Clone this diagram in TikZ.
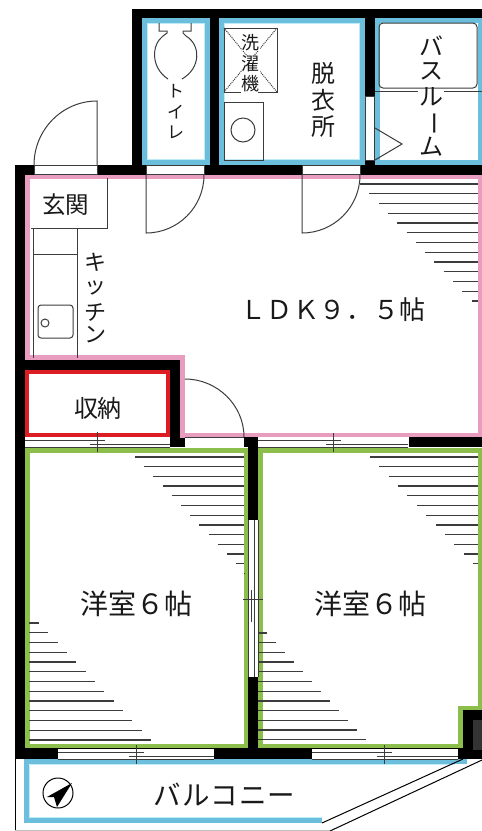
\documentclass[tikz,border=0pt]{standalone}
\usepackage{fontspec}
\setmainfont{Noto Sans CJK JP}
\definecolor{cblue}{HTML}{6BBEDC}
\definecolor{clight}{HTML}{BDEBF8}
\definecolor{cpink}{HTML}{E79CC0}
\definecolor{cgreen}{HTML}{8CBE4C}
\definecolor{cred}{HTML}{DC1E24}
\definecolor{cgrey}{HTML}{3C3C3C}
\tikzset{
  wall/.style={fill=black,draw=none},
  band/.style={draw=#1,line width=5pt,fill=none},
  innerglow/.style={draw=clight,line width=1.2pt},
  thin/.style={draw=cgrey,line width=1pt},
  hatch/.style={draw=cgrey,line width=1.25pt},
  gap/.style={fill=white,draw=none},
  label/.style={inner sep=0pt,text=black!90}
}
\begin{document}
\begin{tikzpicture}[x=1pt,y=-1pt,line join=miter]
\useasboundingbox (0,0) rectangle (482,831);
\fill[white] (0,0) rectangle (482,831);
% coloured room bands
\draw[band=cblue] (144.5,20.5) rectangle (207.5,162.5);
\draw[innerglow] (147.6,23.6) rectangle (204.4,159.4);
\draw[band=cblue] (221.5,20.5) rectangle (362.5,162.5);
\draw[innerglow] (224.6,23.6) rectangle (359.4,159.4);
\draw[band=cblue] (377.5,20.5) -- (480,20.5) -- (480,162.5) -- (377.5,162.5) -- cycle;
\draw[cpink,line width=5pt] (27.5,176) -- (480,176) -- (480,435) -- (182.5,435) -- (182.5,357.5) -- (27.5,357.5) -- cycle;
\draw[cred,line width=4.5pt] (27,372) rectangle (168,435);
\draw[band=cgreen] (27,450) rectangle (246,746);
\draw[cgreen,line width=5pt] (260.5,450) -- (480,450) -- (480,708) -- (460.5,708) -- (460.5,746) -- (260.5,746) -- cycle;
\draw[cblue,line width=5pt] (24.5,761.5) -- (467,761.5);
\draw[cblue,line width=5pt] (26.5,759) -- (26.5,820.5) -- (322,820.5);
\draw[innerglow] (29.6,764.6) -- (29.6,817.4) -- (322,817.4);
\draw[innerglow] (29.6,764.6) -- (455,764.6);
% walls
\fill[wall] (132,9) rectangle (482,18);
\fill[wall] (132,9) rectangle (142,175);
\fill[wall] (210,9) rectangle (219,175);
\fill[wall] (365,9) rectangle (375,96);
\fill[wall] (365,160) rectangle (375,175);
\fill[wall] (15,165) rectangle (482,175);
\fill[wall] (15,165) rectangle (25,759);
\fill[wall] (15,360) rectangle (180,370);
\fill[wall] (170,360) rectangle (180,447);
\fill[wall] (170,438) rectangle (185,447);
\fill[wall] (244,437) rectangle (258,447);
\fill[wall] (248,437) rectangle (258,520);
\fill[wall] (248,677) rectangle (258,759);
\fill[wall] (409,437) rectangle (482,447);
\fill[wall] (15,748) rectangle (482,759);
\fill[wall] (463,710) rectangle (482,759);
\fill[black!80] (473,720) rectangle (482,750);
% openings in walls
\draw[thin,fill=white] (34,165.5) rectangle (97,174);
\draw[thin,fill=white] (146,165.5) rectangle (204,174);
\draw[thin,fill=white] (302,165.5) rectangle (360,174);
\draw[thin,fill=white,line width=.6pt] (365.5,96) rectangle (374.5,160);
\fill[gap] (25,437) rectangle (170,447);
\fill[gap] (258,437) rectangle (409,447);
\fill[gap] (248,520) rectangle (258,677);
\fill[gap] (58,749) rectangle (214,759);
\fill[gap] (312,749) rectangle (458,759);
% doors
\draw[thin] (97,165) -- (97,101) .. controls (62,101) and (34,130) .. (34,165);
\draw[thin] (146,175) -- (146,233) .. controls (178,233) and (204,207) .. (204,175);
\draw[thin] (302,175) -- (302,233) .. controls (334,233) and (360,207) .. (360,175);
\draw[thin] (185,379) .. controls (217,379) and (244,405) .. (244,437);
\draw[thin] (185,437) -- (244,437);
% windows
\draw[thin] (25,440) -- (105,440) (90,444) -- (170,444) (25,447) -- (170,447) (97,432) -- (97,452);
\draw[thin] (258,440) -- (341,440) (326,444) -- (408,444) (258,447) -- (408,447) (333,433) -- (333,452);
\draw[thin] (248,520) -- (248,677) (254,520) -- (254,677) (258,520) -- (258,677) (243,599) -- (263,599) (251,590) -- (251,622);
\draw[thin] (58,752) -- (144,752) (129,756) -- (214,756) (58,759) -- (214,759) (136,745) -- (136,764);
\draw[thin] (312,752) -- (392,752) (377,756) -- (458,756) (312,759) -- (458,759) (384,745) -- (384,764);
% hatching
\foreach \i in {0,...,12}{\draw[hatch] ({360+9.3*\i},{184+9.75*\i}) -- (478,{184+9.75*\i});}
\foreach \i in {0,...,12}{\draw[hatch] ({135+9.2*\i},{457+9.7*\i}) -- (244,{457+9.7*\i});}
\foreach \i in {0,...,11}{\draw[hatch] ({370+9.36*\i},{457+9.7*\i}) -- (478,{457+9.7*\i});}
\foreach \i in {0,...,12}{\draw[hatch] (29,{623+9.75*\i}) -- ({39+9.33*\i},{623+9.75*\i});}
\foreach \i in {0,...,11}{\draw[hatch] (258,{633+9.7*\i}) -- ({267+9*\i},{633+9.7*\i});}
% entrance and kitchen
\draw[thin] (31,228) -- (107,228) -- (107,178);
\draw[thin] (33,228) -- (33,358) (77,228) -- (77,358) (33,254) -- (77,254);
\draw[thin,rounded corners=3pt] (38,305) rectangle (73,338);
\draw[thin] (45,323) circle[radius=4];
% toilet
\draw[thin] (159,23) -- (159,31) -- (167,31) -- (167,33) -- (163,36) .. controls (151,45) and (151,68) .. (168,79);
\draw[thin] (191,23) -- (191,31) -- (183,31) -- (183,33) -- (186,36) .. controls (201,45) and (201,68) .. (182,79);
% washing machine place and basin
\draw[thin] (241,92) -- (224,92) -- (224,28) -- (277,28) -- (277,92) -- (258,92);
\draw[thin,densely dotted] (224,28) -- (277,92) (277,28) -- (224,92);
\draw[thin] (224,102) rectangle (263,160);
\draw[thin] (243,130) circle[radius=12];
% bath
\draw[thin,rounded corners=4pt] (379,23) rectangle (477,88);
\draw[thin] (375,91) -- (418,91) (444,91) -- (482,91);
\draw[thin] (375,128) -- (402,144) -- (375,160);
% balcony
\draw[draw=black,line width=1pt] (15,759) -- (15,831);
\draw[line width=1pt,draw=black!25] (15,830) -- (330,830);
\draw[draw=black,line width=1pt] (322,823) -- (463,759);
\draw[draw=black,line width=1pt] (330,831) -- (482,760);
% compass
\draw[draw=black,line width=1pt] (58,793) circle[radius=15];
\fill[black] (72,783) -- (47,797) -- (54,797) -- (57,807) -- cycle;
% text
\node[label,font=\fontsize{23.5}{23.5}\selectfont] (genkan) at (65.5,205) {玄関};
\node[label,font=\fontsize{24}{24}\selectfont] (shuno) at (98,408) {収納};
\node[label,font=\fontsize{26}{26}\selectfont] (ldk) at (333,310) {Ｌ\hspace{.6pt}Ｄ\hspace{.6pt}Ｋ\hspace{.6pt}９\hspace{.6pt}．\hspace{.6pt}５\hspace{.6pt}帖};
\node[label,font=\fontsize{28}{28}\selectfont] (room1) at (136.5,604) {洋室６帖};
\node[label,font=\fontsize{28}{28}\selectfont] (room2) at (370,604) {洋室６帖};
\node[label,font=\fontsize{27.5}{27.5}\selectfont] (balcony) at (224.5,795) {バ\hspace{1pt}ル\hspace{1pt}コ\hspace{1pt}ニ\hspace{1pt}ー};
\node[label,font=\fontsize{17}{17}\selectfont] (to) at (175.5,91) {ト};
\node[label,font=\fontsize{17}{17}\selectfont] (i) at (175.5,112) {イ};
\node[label,font=\fontsize{17}{17}\selectfont] (re) at (175.5,132) {レ};
\node[label,fill=white,font=\fontsize{18}{18}\selectfont] (sen) at (250.7,43) {洗};
\node[label,fill=white,font=\fontsize{18}{18}\selectfont] (taku) at (250.7,64) {濯};
\node[label,fill=white,font=\fontsize{18}{18}\selectfont] (ki) at (250.7,84) {機};
\node[label,font=\fontsize{24}{24}\selectfont] (datsu) at (323,73) {脱};
\node[label,font=\fontsize{24}{24}\selectfont] (koro) at (323,100) {衣};
\node[label,font=\fontsize{24}{24}\selectfont] (sho) at (323,127) {所};
\node[label,font=\fontsize{24}{24}\selectfont] (ba) at (431,46) {バ};
\node[label,font=\fontsize{24}{24}\selectfont] (su) at (431,71) {ス};
\node[label,font=\fontsize{24}{24}\selectfont] (ru) at (431,97) {ル};
\node[label,font=\fontsize{24}{24}\selectfont,rotate=-90] (bar) at (431,123) {ー};
\node[label,font=\fontsize{24}{24}\selectfont] (mu) at (431,147) {ム};
\node[label,font=\fontsize{22}{22}\selectfont] (ki2) at (95,262) {キ};
\node[label,font=\fontsize{22}{22}\selectfont] (tsu) at (95,288) {ッ};
\node[label,font=\fontsize{22}{22}\selectfont] (chi) at (95,312) {チ};
\node[label,font=\fontsize{22}{22}\selectfont] (n) at (95,335) {ン};
\end{tikzpicture}
\end{document}
